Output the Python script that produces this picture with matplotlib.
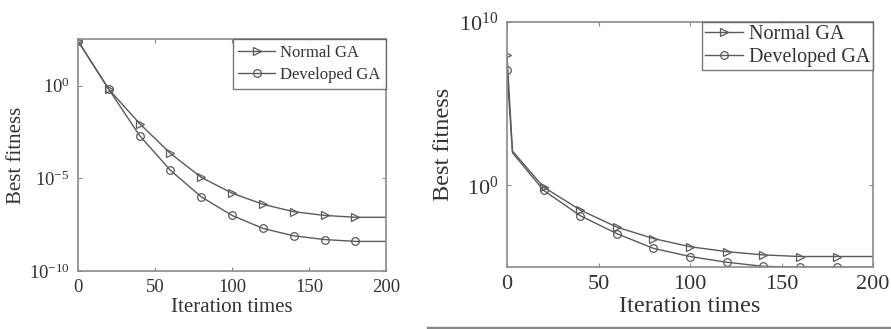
import numpy as np
import matplotlib
matplotlib.use("Agg")
import matplotlib.pyplot as plt
from matplotlib.lines import Line2D

plt.rcParams['font.family'] = ['Liberation Serif', 'DejaVu Serif']
plt.rcParams['mathtext.fontset'] = 'stix'

# left panel: best fitness (log10) per iteration
iter_left = [0, 20, 40, 60, 80, 100, 120, 140, 160, 180, 200]
normal_left_log = [2.4, -0.2, -2.05, -3.66, -4.95, -5.8, -6.4, -6.8, -7.0, -7.1, -7.1]
developed_left_log = [2.4, -0.2, -2.7, -4.57, -6.0, -7.0, -7.7, -8.1, -8.3, -8.4, -8.4]

# right panel: best fitness (log10) per iteration
iter_right = [0, 3, 20, 40, 60, 80, 100, 120, 140, 160, 180, 200]
normal_right_log = [8.0, 2.1, -0.1, -1.5, -2.55, -3.25, -3.75, -4.05, -4.25, -4.35, -4.35, -4.35]
developed_right_log = [7.05, 2.0, -0.3, -1.85, -2.95, -3.85, -4.35, -4.7, -4.95, -5.0, -5.0, -5.0]

series_names = ['Normal GA', 'Developed GA']
line_col = '#5a5a5a'
axis_col = '#8a8a8a'

fig = plt.figure(figsize=(8.91, 3.29), dpi=100)


def draw_panel(ax, x, ys, marks, fs, labfs, legfs, bpad, lspace, hlen):
    markers = ['>', 'o']
    for y, m, name in zip(ys, markers, series_names):
        ax.plot(x, 10.0 ** np.array(y), color=line_col, lw=1.0,
                marker=m, markersize=5.5, markerfacecolor='none',
                markeredgecolor=line_col, markeredgewidth=0.9,
                markevery=marks, label=name)
    ax.set_yscale('log')
    ax.set_xlim(0, 200)
    ax.set_xticks([0, 50, 100, 150, 200])
    ax.minorticks_off()
    ax.tick_params(direction='in', top=True, right=True, length=3,
                   color=axis_col, labelsize=fs, labelcolor='#333333', pad=6)
    for s in ax.spines.values():
        s.set_color(axis_col)
        s.set_linewidth(1.2)
    ax.set_xlabel('Iteration times', fontsize=labfs, color='#333333', labelpad=1)
    ax.set_ylabel('Best fitness', fontsize=labfs, color='#333333')
    leg = ax.legend(loc='upper right', fontsize=legfs, frameon=True, fancybox=False,
                    borderaxespad=0.0, handlelength=hlen, handletextpad=0.3,
                    borderpad=bpad, labelspacing=lspace)
    leg.get_frame().set_edgecolor('#555555')
    leg.get_frame().set_linewidth(1.0)
    for t in leg.get_texts():
        t.set_color('#333333')


ax1 = fig.add_axes([0.0875, 0.176, 0.346, 0.705])
draw_panel(ax1, iter_left, [normal_left_log, developed_left_log],
           list(range(10)), 13.5, 15, 12, 0.35, 0.35, 2.2)
ax1.set_ylim(1e-10, 10 ** 2.5)
ax1.set_yticks([1e-10, 1e-5, 1e0])
ax1.yaxis.labelpad = 2

ax2 = fig.add_axes([0.569, 0.188, 0.411, 0.745])
draw_panel(ax2, iter_right, [normal_right_log, developed_right_log],
           [0] + list(range(2, 11)), 16, 17.5, 14.5, 0.15, 0.2, 1.9)
ax2.set_ylim(1e-5, 1e10)
ax2.set_yticks([1e0, 1e10])
ax2.yaxis.labelpad = 4

# grey rule along the bottom edge of the right image
fig.add_artist(Line2D([0.48, 1.0], [0.004, 0.004], color='#888888', lw=2.5))

fig.savefig('out.png', dpi=100)
